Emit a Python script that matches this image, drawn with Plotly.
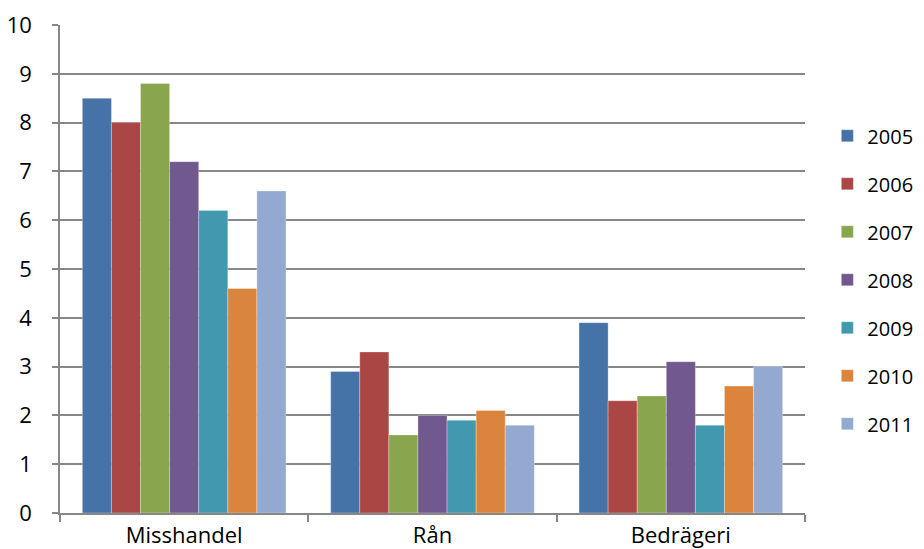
import plotly.graph_objects as go

categories = ['Misshandel', 'Rån', 'Bedrägeri']
years = ['2005', '2006', '2007', '2008', '2009', '2010', '2011']
values = {
    '2005': [8.5, 2.9, 3.9],
    '2006': [8.0, 3.3, 2.3],
    '2007': [8.8, 1.6, 2.4],
    '2008': [7.2, 2.0, 3.1],
    '2009': [6.2, 1.9, 1.8],
    '2010': [4.6, 2.1, 2.6],
    '2011': [6.6, 1.8, 3.0],
}
colors = ['#4572A7', '#AA4643', '#89A54E', '#71588F', '#4198AF', '#DB843D', '#93A9CF']

fig = go.Figure()
for yr, col in zip(years, colors):
    fig.add_trace(go.Bar(
        x=categories, y=values[yr], name=yr, legendgroup=yr,
        marker=dict(color=col, line=dict(color='rgba(255,255,255,0.6)', width=0.5)),
    ))

grid = '#878787'
fig.update_layout(
    width=916, height=541,
    margin=dict(l=52, r=119, t=17, b=36, autoexpand=False),
    paper_bgcolor='white', plot_bgcolor='white',
    font=dict(family='Open Sans, Lato, sans-serif', size=22, color='black'),
    barmode='group', bargap=0.18, bargroupgap=0,
    legend=dict(x=1.03, y=0.478, xanchor='left', yanchor='middle',
                tracegroupgap=19, font=dict(size=20)),
    showlegend=True,
)
fig.update_xaxes(
    showline=True, linecolor=grid, linewidth=1.5, automargin=False,
    ticks='outside', tickson='boundaries', ticklen=7, tickcolor=grid, tickwidth=1.5,
    showgrid=False, ticklabelstandoff=2,
)
fig.update_yaxes(
    range=[0, 10], dtick=1, showline=True, linecolor=grid, linewidth=1.5, automargin=False,
    ticks='outside', ticklen=6, tickcolor=grid, tickwidth=1.5, ticklabelstandoff=16,
    showgrid=True, gridcolor=grid, gridwidth=1.5, zeroline=False,
)

fig.write_html('out.html')
